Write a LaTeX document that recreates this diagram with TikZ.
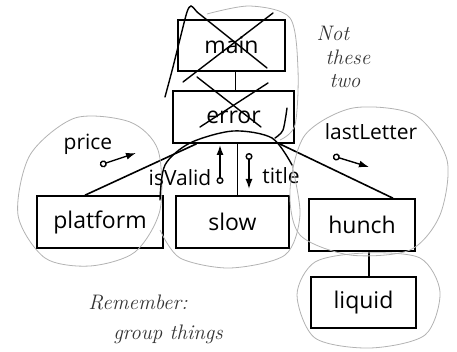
\documentclass[tikz,border=0pt]{standalone}
\usepackage{fontspec}
\setmainfont{Open Sans}
\newfontfamily\handfont{Latin Modern Roman}
\usetikzlibrary{arrows.meta}
\tikzset{
  box/.style={draw,line width=1.6pt,minimum height=52pt,inner sep=0pt,
    font=\fontsize{23}{23}\selectfont},
  lbl/.style={inner sep=0pt,font=\fontsize{21}{21}\selectfont},
  flow/.style={line width=1.4pt,{Circle[open,length=7pt,width=7pt]}-{Latex[length=10pt,width=7pt]}},
  group/.style={gray!60,line width=0.8pt},
  scribble/.style={black,line width=1.4pt,line cap=round},
  hand/.style={inner sep=0pt,text=gray!40!black,font=\handfont\itshape\fontsize{21}{21}\selectfont}
}
\begin{document}
\begin{tikzpicture}[x=1pt,y=-1pt]
      \useasboundingbox (0,0) rectangle (457,352);
      % the chart
      \node[box,minimum width=107pt,minimum height=51pt] (main) at (231.5,45.5) {main};
      \node[box,minimum width=121pt] (error) at (233.5,117) {error};
      \node[box,minimum width=126pt] (platform) at (100,222) {platform};
      \node[box,minimum width=113pt] (slow) at (232.5,222) {slow};
      \node[box,minimum width=106pt] (hunch) at (362,225) {hunch};
      \node[box,minimum width=105pt,minimum height=51pt] (liquid) at (363.5,302.5) {liquid};
      \begin{scope}[line width=1.6pt]
        \draw ([xshift=4pt]main.south) to ([xshift=4pt]main.south |- error.north);
        \draw ([xshift=-37pt]error.south) to ([xshift=-15pt]platform.north);
        \draw ([xshift=4pt]error.south) to ([xshift=4pt]error.south |- slow.north);
        \draw ([xshift=46pt]error.south) to ([xshift=31pt]hunch.north);
        \draw ([xshift=7pt]hunch.south) to ([xshift=7pt]hunch.south |- liquid.north);
      \end{scope}
      % data and flags
      \coordinate (price-o) at (100,165);
      \coordinate (price-h) at (136,153);
      \coordinate (isvalid-o) at (220,184);
      \coordinate (isvalid-h) at (220,145);
      \coordinate (title-o) at (249,153);
      \coordinate (title-h) at (249,189);
      \coordinate (lastletter-o) at (333,156);
      \coordinate (lastletter-h) at (369,167);
      \draw[flow] (price-o) to (price-h);
      \draw[flow] (isvalid-o) to (isvalid-h);
      \draw[flow] (title-o) to (title-h);
      \draw[flow] (lastletter-o) to (lastletter-h);
      \node[lbl] (price) at (88,144) {price};
      \node[lbl] (isvalid) at (180,178) {isValid};
      \node[lbl] (title) at (281,176) {title};
      \node[lbl] (lastletter) at (371,132) {lastLetter};
      % pencil groups
      \draw[group] plot[smooth cycle] coordinates {(75,118) (130,122) (158,150) (160,210) (135,252) (90,266) (45,258) (18,215) (30,155)};
      \draw[group] plot[smooth] coordinates {(292,165) (300,215) (285,255) (230,268) (180,258) (160,230)};
      \draw[group] plot[smooth cycle] coordinates {(353,108) (415,115) (447,160) (440,215) (410,250) (350,255) (300,235) (290,190) (305,135)};
      \draw[group] plot[smooth cycle] coordinates {(365,253) (420,258) (440,292) (425,335) (370,348) (315,338) (297,295) (315,262)};
      \draw[group] plot[smooth] coordinates {(207,14) (250,6) (290,18) (298,70) (295,125) (280,140)};
      % pen marks
      \draw[scribble] (183,82) to (273,13);
      \draw[scribble] (197,12) to (267,68);
      \draw[scribble] (197,77) to (261,127);
      \draw[scribble] (200,127) to (268,83);
      \draw[scribble] plot[smooth] coordinates {(197,12) (191,6) (187,12) (181,35) (173,67) (165,97)};
      \draw[scribble] plot[smooth] coordinates {(160,200) (165,165) (190,143) (233,131) (272,138) (292,165)};
      \draw[scribble] plot[smooth] coordinates {(287,108) (283,130) (275,138)};
      % notes
      \node[hand] (not) at (333,33) {Not};
      \node[hand] (these) at (348,57) {these};
      \node[hand] (two) at (345,81) {two};
      \node[hand] (remember) at (138,302) {Remember:};
      \node[hand] (group) at (168,334) {group things};
    \end{tikzpicture}
\end{document}
